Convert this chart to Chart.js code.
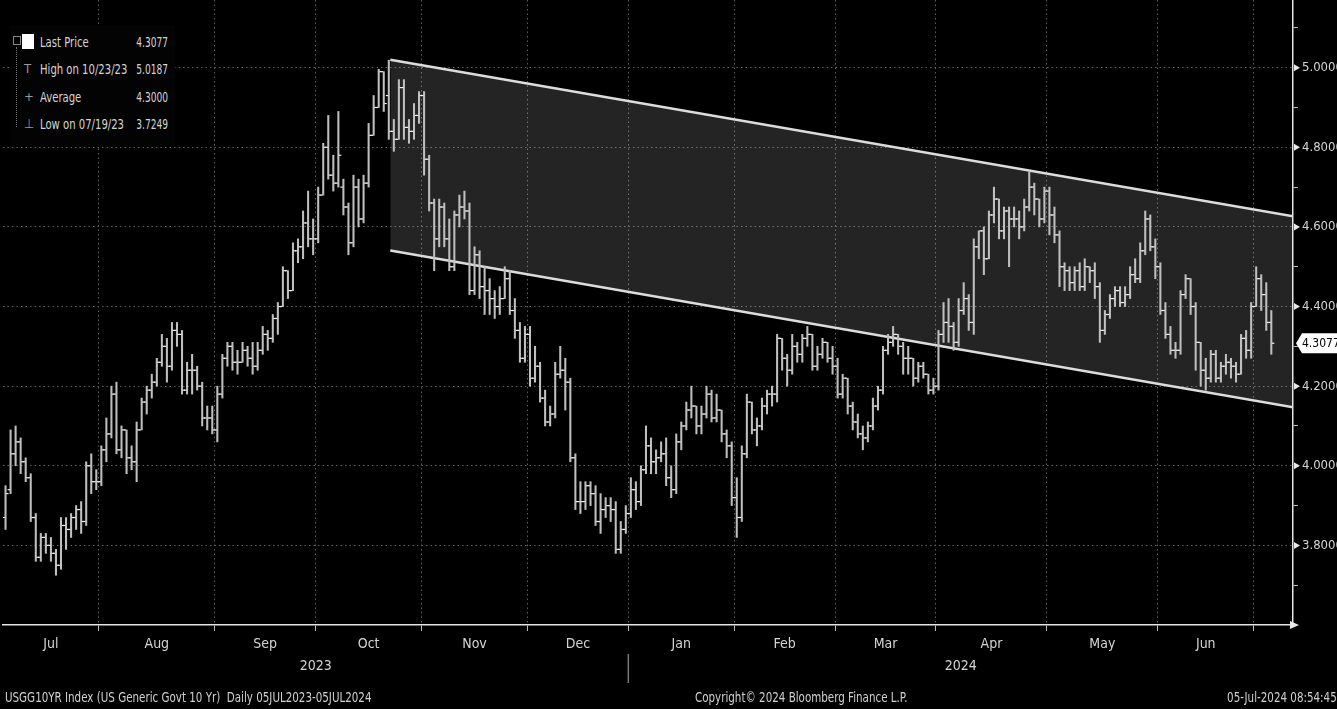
<!DOCTYPE html>
<html lang="en">
<head>
<meta charset="UTF-8">
<title>USGG10YR Index</title>
<script src="https://cdn.jsdelivr.net/npm/chart.js@4"></script>
<style>
html,body{margin:0;padding:0;background:#000;overflow:hidden}
#wrap{position:relative;width:1337px;height:709px;background:#000;
  font-family:"DejaVu Sans Condensed","Liberation Sans",sans-serif;color:#d4d4d4}
#chart{position:absolute;left:0;top:0}
#legendBox{position:absolute;left:10px;top:25px;width:165px;height:122px;background:#030303}
.lg-row{position:absolute;left:0;width:165px;height:20px;line-height:20px;font-size:14px;white-space:nowrap}
.lg-row .lbl{position:absolute;left:30px;transform:scaleX(.8);transform-origin:left center}
.lg-row .val{position:absolute;right:7px;transform:scaleX(.72);transform-origin:right center}
.lg-row .ico{position:absolute;left:14px;color:#9a9a9a;font-size:13px}
.sq{position:absolute;left:12px;top:2px;width:12px;height:15px;background:#fff}
.tree{position:absolute;left:6px;top:22px;height:80px;border-left:1px dotted #777}
.fold{position:absolute;left:3px;top:11px;width:6px;height:7px;border:1px solid #888}
.foot{position:absolute;top:688px;font-size:14px;line-height:18px;white-space:nowrap;color:#d0d0d0;
  transform:scaleX(.82);transform-origin:left center}
.foot.r{transform-origin:right center}
</style>
</head>
<body>
<div id="wrap">
  <canvas id="chart" width="1337" height="709"></canvas>
  <div id="legendBox"><div class="fold"></div><div class="tree"></div></div>
  <div class="foot" style="left:5px">USGG10YR Index (US Generic Govt 10 Yr)&nbsp; Daily 05JUL2023-05JUL2024</div>
  <div class="foot" style="left:695px">Copyright© 2024 Bloomberg Finance L.P.</div>
  <div class="foot r" style="right:0">05-Jul-2024 08:54:45</div>
</div>
<script>
// trading days per month, Jul 2023 .. Jul 2024
const MONTH_DAYS=[19,23,20,21,21,20,21,20,20,22,22,19,4];
const MONTH_LABELS=["Jul","Aug","Sep","Oct","Nov","Dec","Jan","Feb","Mar","Apr","May","Jun"];
const YEAR_LABELS=["2023","2024"];

// daily OHLC, one line per month
const OPEN=[
 3.87,3.94,4.03,4.06,4.01,3.97,3.87,3.77,3.82,3.80,3.78,3.75,3.85,3.84,3.87,3.89,3.86,4.00,3.96,
 3.96,4.04,4.08,4.18,4.04,4.09,4.02,4.01,4.09,4.16,4.19,4.21,4.26,4.30,4.25,4.34,4.33,4.19,4.24,4.24,4.20,4.12,4.12,
 4.09,4.18,4.27,4.30,4.26,4.26,4.29,4.27,4.25,4.29,4.33,4.32,4.37,4.40,4.49,4.44,4.54,4.55,4.61,4.57,
 4.57,4.68,4.80,4.73,4.71,4.70,4.65,4.56,4.70,4.62,4.71,4.83,4.90,4.99,4.93,4.84,4.82,4.95,4.85,4.84,4.88,
 4.93,4.77,4.66,4.57,4.65,4.57,4.50,4.63,4.65,4.64,4.44,4.53,4.45,4.44,4.42,4.40,4.42,4.47,4.39,4.34,4.27,
 4.33,4.22,4.25,4.17,4.11,4.13,4.23,4.24,4.21,4.02,3.91,3.91,3.95,3.93,3.86,3.89,3.90,3.89,3.79,3.84,
 3.88,3.94,3.91,3.99,4.05,4.01,4.02,4.03,3.97,3.94,4.06,4.10,4.14,4.15,4.10,4.13,4.18,4.12,4.14,4.08,4.05,
 3.92,3.87,4.03,4.16,4.09,4.10,4.15,4.18,4.18,4.32,4.27,4.24,4.30,4.28,4.32,4.33,4.25,4.28,4.31,4.27,
 4.25,4.18,4.22,4.15,4.11,4.08,4.07,4.10,4.15,4.19,4.29,4.31,4.33,4.30,4.27,4.27,4.22,4.25,4.23,4.19,
 4.20,4.33,4.36,4.35,4.31,4.39,4.42,4.36,4.55,4.59,4.52,4.63,4.67,4.59,4.64,4.62,4.62,4.60,4.65,4.70,4.67,4.62,
 4.69,4.63,4.58,4.50,4.49,4.46,4.49,4.45,4.50,4.49,4.45,4.34,4.38,4.42,4.44,4.41,4.43,4.48,4.47,4.54,4.62,4.55,
 4.50,4.39,4.33,4.29,4.29,4.43,4.47,4.40,4.31,4.24,4.22,4.28,4.22,4.25,4.26,4.25,4.23,4.32,4.29,
 4.40,4.47,4.43,4.36];
const HIGH=[
 3.95,4.09,4.10,4.07,4.02,3.98,3.88,3.83,3.83,3.82,3.79,3.87,3.87,3.88,3.90,3.91,4.01,4.03,3.99,
 4.05,4.12,4.20,4.21,4.10,4.09,4.05,4.11,4.17,4.20,4.23,4.27,4.33,4.32,4.36,4.36,4.34,4.26,4.28,4.25,4.21,4.15,4.15,
 4.20,4.28,4.31,4.31,4.29,4.31,4.30,4.31,4.31,4.35,4.34,4.38,4.41,4.50,4.49,4.56,4.57,4.64,4.69,4.62,
 4.70,4.81,4.88,4.78,4.89,4.72,4.66,4.73,4.72,4.73,4.86,4.93,4.996,4.99,5.0187,4.87,4.97,4.97,4.87,4.91,4.94,
 4.94,4.78,4.67,4.67,4.66,4.62,4.64,4.68,4.69,4.66,4.55,4.54,4.50,4.47,4.44,4.45,4.50,4.49,4.42,4.36,4.35,
 4.35,4.30,4.26,4.19,4.15,4.26,4.30,4.27,4.22,4.03,3.96,3.96,3.96,3.95,3.93,3.92,3.92,3.91,3.86,3.90,
 3.97,3.96,4.00,4.10,4.07,4.04,4.06,4.07,4.00,4.08,4.11,4.16,4.20,4.15,4.15,4.20,4.19,4.18,4.14,4.09,4.06,
 3.97,4.05,4.18,4.16,4.12,4.17,4.19,4.20,4.33,4.32,4.28,4.33,4.31,4.33,4.35,4.33,4.30,4.32,4.31,4.30,
 4.27,4.23,4.22,4.16,4.13,4.10,4.11,4.17,4.20,4.30,4.33,4.35,4.33,4.31,4.30,4.27,4.26,4.26,4.23,4.22,
 4.34,4.41,4.42,4.36,4.42,4.46,4.43,4.57,4.59,4.60,4.64,4.70,4.67,4.65,4.65,4.65,4.64,4.67,4.74,4.71,4.67,4.70,
 4.70,4.65,4.59,4.51,4.50,4.50,4.51,4.52,4.50,4.51,4.46,4.39,4.43,4.45,4.45,4.45,4.50,4.52,4.56,4.64,4.63,4.57,
 4.51,4.41,4.35,4.31,4.44,4.48,4.47,4.41,4.31,4.27,4.29,4.29,4.26,4.28,4.27,4.26,4.33,4.34,4.41,
 4.50,4.48,4.46,4.39];
const LOW=[
 3.84,3.93,4.00,3.98,3.96,3.86,3.76,3.76,3.78,3.76,3.7249,3.74,3.79,3.82,3.84,3.83,3.85,3.93,3.94,
 3.95,4.01,4.07,4.03,4.02,3.98,3.99,3.96,4.09,4.13,4.17,4.20,4.25,4.21,4.24,4.30,4.18,4.18,4.18,4.19,4.10,4.09,4.08,
 4.06,4.17,4.25,4.24,4.23,4.26,4.25,4.23,4.24,4.28,4.29,4.31,4.33,4.40,4.42,4.44,4.51,4.52,4.55,4.53,
 4.56,4.68,4.72,4.69,4.70,4.63,4.53,4.55,4.60,4.61,4.70,4.83,4.90,4.89,4.82,4.79,4.82,4.82,4.81,4.82,4.86,
 4.73,4.64,4.49,4.55,4.55,4.49,4.49,4.60,4.62,4.43,4.43,4.42,4.38,4.38,4.37,4.38,4.42,4.38,4.32,4.26,4.26,
 4.20,4.21,4.16,4.10,4.10,4.12,4.22,4.14,4.01,3.89,3.88,3.89,3.90,3.85,3.83,3.87,3.86,3.78,3.78,3.83,
 3.87,3.89,3.90,3.98,3.98,3.98,4.01,3.95,3.92,3.93,4.04,4.09,4.12,4.08,4.08,4.12,4.11,4.11,4.06,4.02,3.90,
 3.82,3.86,4.02,4.08,4.05,4.09,4.13,4.15,4.16,4.24,4.20,4.23,4.26,4.26,4.30,4.24,4.24,4.27,4.26,4.23,
 4.17,4.17,4.13,4.09,4.07,4.04,4.06,4.09,4.14,4.18,4.28,4.30,4.28,4.23,4.23,4.20,4.21,4.22,4.18,4.18,
 4.19,4.31,4.31,4.29,4.30,4.38,4.34,4.33,4.52,4.48,4.52,4.61,4.57,4.57,4.50,4.60,4.57,4.59,4.64,4.63,4.60,4.61,
 4.58,4.56,4.45,4.44,4.44,4.44,4.44,4.44,4.46,4.42,4.31,4.33,4.37,4.40,4.40,4.40,4.42,4.46,4.46,4.53,4.54,4.47,
 4.38,4.32,4.28,4.27,4.28,4.42,4.38,4.24,4.20,4.19,4.21,4.21,4.21,4.23,4.22,4.21,4.23,4.27,4.27,
 4.40,4.39,4.34,4.28];
const CLOSE=[
 3.93,4.03,4.06,4.01,3.97,3.87,3.77,3.82,3.80,3.78,3.75,3.85,3.84,3.87,3.89,3.86,4.00,3.96,3.96,
 4.04,4.08,4.18,4.04,4.09,4.02,4.01,4.09,4.16,4.19,4.21,4.26,4.30,4.25,4.34,4.33,4.19,4.24,4.24,4.20,4.12,4.12,4.09,
 4.18,4.27,4.30,4.26,4.26,4.29,4.27,4.25,4.29,4.33,4.32,4.37,4.40,4.49,4.44,4.54,4.55,4.61,4.57,4.57,
 4.68,4.80,4.73,4.71,4.78,4.65,4.56,4.70,4.62,4.71,4.83,4.90,4.99,4.91,4.84,4.82,4.95,4.85,4.84,4.88,4.93,
 4.77,4.66,4.57,4.65,4.57,4.50,4.63,4.65,4.64,4.44,4.53,4.45,4.44,4.42,4.40,4.42,4.47,4.39,4.34,4.27,4.33,
 4.22,4.25,4.17,4.11,4.13,4.23,4.24,4.21,4.02,3.91,3.91,3.95,3.93,3.86,3.89,3.90,3.89,3.79,3.84,3.88,
 3.94,3.91,3.99,4.05,4.01,4.02,4.03,3.97,3.94,4.06,4.10,4.14,4.15,4.10,4.13,4.18,4.12,4.14,4.08,4.05,3.92,
 3.87,4.03,4.16,4.09,4.10,4.15,4.18,4.18,4.32,4.27,4.24,4.30,4.28,4.32,4.33,4.25,4.28,4.31,4.27,4.25,
 4.18,4.22,4.15,4.11,4.08,4.07,4.10,4.15,4.19,4.29,4.31,4.33,4.30,4.27,4.27,4.22,4.25,4.23,4.19,4.20,
 4.33,4.36,4.35,4.31,4.39,4.42,4.36,4.55,4.59,4.52,4.63,4.67,4.59,4.64,4.62,4.62,4.60,4.65,4.70,4.67,4.62,4.69,
 4.63,4.58,4.50,4.49,4.46,4.49,4.45,4.50,4.49,4.45,4.34,4.38,4.42,4.44,4.41,4.43,4.48,4.47,4.54,4.62,4.55,4.50,
 4.39,4.33,4.29,4.29,4.43,4.47,4.40,4.31,4.24,4.22,4.28,4.22,4.25,4.26,4.25,4.23,4.32,4.29,4.40,
 4.47,4.43,4.36,4.3077];

// trend channel (trading-day index, yield)
const CHANNEL_X=[76.3,255.3];
const CHANNEL_UPPER=[5.020,4.627];
const CHANNEL_LOWER=[4.541,4.147];

const Y_TICKS=[3.7,3.8,3.9,4.0,4.1,4.2,4.3,4.4,4.5,4.6,4.7,4.8,4.9,5.0,5.1];
const Y_LABELS=[3.8,4.0,4.2,4.4,4.6,4.8,5.0];
const LEGEND_ROWS=[["","Last Price","4.3077"],["T","High on 10/23/23","5.0187"],["+","Average","4.3000"],["\u22A5","Low on 07/19/23","3.7249"]];

const X_MIN=-0.5, X_MAX=255.3, Y_MIN=3.6, Y_MAX=5.17;
const FONT='"DejaVu Sans Condensed","Liberation Sans",sans-serif';
const TXT='#d4d4d4', GRID='#5e5e5e', BAR='#bfbfbf', TICK='#eeeeee', LINE='#dcdcdc';

// month boundaries and label centres
const monthEnd=[];let acc=0;
MONTH_DAYS.forEach(n=>{acc+=n;monthEnd.push(acc-0.5);});
const BOUNDS=monthEnd.slice(0,12);
const monthMid=MONTH_LABELS.map((_,k)=>((k?monthEnd[k-1]:X_MIN)+monthEnd[k])/2);
const yearMid=[(X_MIN+BOUNDS[5])/2,(BOUNDS[5]+X_MAX)/2];
const isLab=v=>Y_LABELS.some(l=>Math.abs(l-v)<1e-6);

// legend box
const lg=document.getElementById('legendBox');
const rowTop=[7,34,62,89];
LEGEND_ROWS.forEach(([ico,lbl,val],i)=>{
  const r=document.createElement('div');r.className='lg-row';r.style.top=rowTop[i]+'px';
  r.innerHTML=(i===0?'<span class="sq"></span>':`<span class="ico">${ico}</span>`)+
    `<span class="lbl">${lbl}</span><span class="val">${val}</span>`;
  lg.appendChild(r);
});

const ranges=HIGH.map((h,i)=>({x:i,y:[LOW[i],h]}));
const opens=OPEN.map((v,i)=>({x:i-0.36,y:v}));
const closes=CLOSE.map((v,i)=>({x:i+0.36,y:v}));

const decor={id:'decor',afterDraw(chart){
  const {ctx,chartArea:a,scales:{x,y}}=chart;
  ctx.save();
  ctx.fillStyle='#e8e8e8';
  ctx.beginPath();ctx.moveTo(a.right-3,a.bottom-4);ctx.lineTo(a.right+6,a.bottom);ctx.lineTo(a.right-3,a.bottom+4);ctx.fill();
  Y_LABELS.forEach(v=>{const py=y.getPixelForValue(v);
    ctx.beginPath();ctx.moveTo(a.right+1,py-3.5);ctx.lineTo(a.right+7,py);ctx.lineTo(a.right+1,py+3.5);ctx.fill();});
  const px=x.getPixelForValue(BOUNDS[5]);
  ctx.strokeStyle='#777';ctx.lineWidth=1.5;
  ctx.beginPath();ctx.moveTo(px,a.bottom+29);ctx.lineTo(px,a.bottom+58);ctx.stroke();
  // last price tag
  const last=CLOSE[CLOSE.length-1], py=y.getPixelForValue(last), x0=a.right+3;
  ctx.fillStyle='#fff';
  ctx.beginPath();ctx.moveTo(x0,py);ctx.lineTo(x0+6,py-10);ctx.lineTo(1337,py-10);ctx.lineTo(1337,py+10);ctx.lineTo(x0+6,py+10);ctx.closePath();ctx.fill();
  ctx.fillStyle='#000';ctx.font='12px '+FONT;ctx.textAlign='left';ctx.textBaseline='middle';
  ctx.fillText(last.toFixed(4),x0+6,py+1);
  ctx.restore();
}};

const noPad=s=>{s.paddingLeft=0;s.paddingRight=0;s.paddingTop=0;s.paddingBottom=0;};
new Chart(document.getElementById('chart'),{
  type:'bar',
  data:{datasets:[
    {type:'line',data:CHANNEL_X.map((v,i)=>({x:v,y:CHANNEL_UPPER[i]})),borderColor:LINE,borderWidth:2.5,pointRadius:0,fill:false,order:10},
    {type:'line',data:CHANNEL_X.map((v,i)=>({x:v,y:CHANNEL_LOWER[i]})),borderColor:LINE,borderWidth:2.5,pointRadius:0,
     fill:'-1',backgroundColor:'rgba(255,255,255,0.14)',order:10},
    {type:'bar',data:ranges,backgroundColor:BAR,barThickness:1.4,grouped:false,order:2},
    {type:'line',data:opens,showLine:false,pointStyle:'line',pointRadius:1.2,pointBorderColor:TICK,pointBorderWidth:1.2,order:1},
    {type:'line',data:closes,showLine:false,pointStyle:'line',pointRadius:1.2,pointBorderColor:TICK,pointBorderWidth:1.2,order:1}
  ]},
  options:{
    responsive:false,animation:false,devicePixelRatio:1,
    layout:{autoPadding:false,padding:{left:3,right:0,top:0,bottom:30}},
    plugins:{legend:{display:false},tooltip:{enabled:false}},
    scales:{
      x:{type:'linear',position:'bottom',min:X_MIN,max:X_MAX,weight:0,offset:false,
        afterBuildTicks:s=>{s.ticks=BOUNDS.map(v=>({value:v}));},
        afterFit:s=>{s.height=8;noPad(s);},
        ticks:{callback:()=>'',padding:0,autoSkip:false,maxRotation:0},
        grid:{offset:false,color:GRID,lineWidth:1,tickLength:6,tickColor:'#bdbdbd'},
        border:{display:true,color:'#e4e4e4',width:1.5,dash:[1.5,3]}},
      months:{type:'linear',axis:'x',position:'bottom',min:X_MIN,max:X_MAX,weight:1,offset:false,
        afterBuildTicks:s=>{s.ticks=monthMid.map(v=>({value:v}));},
        afterFit:s=>{s.height=22;noPad(s);},
        ticks:{autoSkip:false,maxRotation:0,color:TXT,font:{family:FONT,size:14},padding:3,callback:(v,i)=>MONTH_LABELS[i]},
        grid:{display:false,drawTicks:false,offset:false},border:{display:false}},
      years:{type:'linear',axis:'x',position:'bottom',min:X_MIN,max:X_MAX,weight:2,offset:false,
        afterBuildTicks:s=>{s.ticks=yearMid.map(v=>({value:v}));},
        afterFit:s=>{s.height=24;noPad(s);},
        ticks:{autoSkip:false,maxRotation:0,color:TXT,font:{family:FONT,size:14},padding:3,callback:(v,i)=>YEAR_LABELS[i]},
        grid:{display:false,drawTicks:false,offset:false},border:{display:false}},
      y:{type:'linear',position:'right',min:Y_MIN,max:Y_MAX,
        afterBuildTicks:s=>{s.ticks=Y_TICKS.map(v=>({value:v}));},
        afterFit:s=>{s.width=44;noPad(s);},
        ticks:{color:TXT,font:{family:FONT,size:13},padding:4,autoSkip:false,callback:v=>isLab(v)?v.toFixed(4):''},
        grid:{color:c=>c.tick&&isLab(c.tick.value)?GRID:'rgba(0,0,0,0)',
              tickColor:c=>c.tick&&isLab(c.tick.value)?'rgba(0,0,0,0)':'#bdbdbd',tickLength:5},
        border:{display:true,color:'#e4e4e4',width:1.5,dash:[1.5,3]}}
    }
  },
  plugins:[decor]
});
</script>
</body>
</html>
